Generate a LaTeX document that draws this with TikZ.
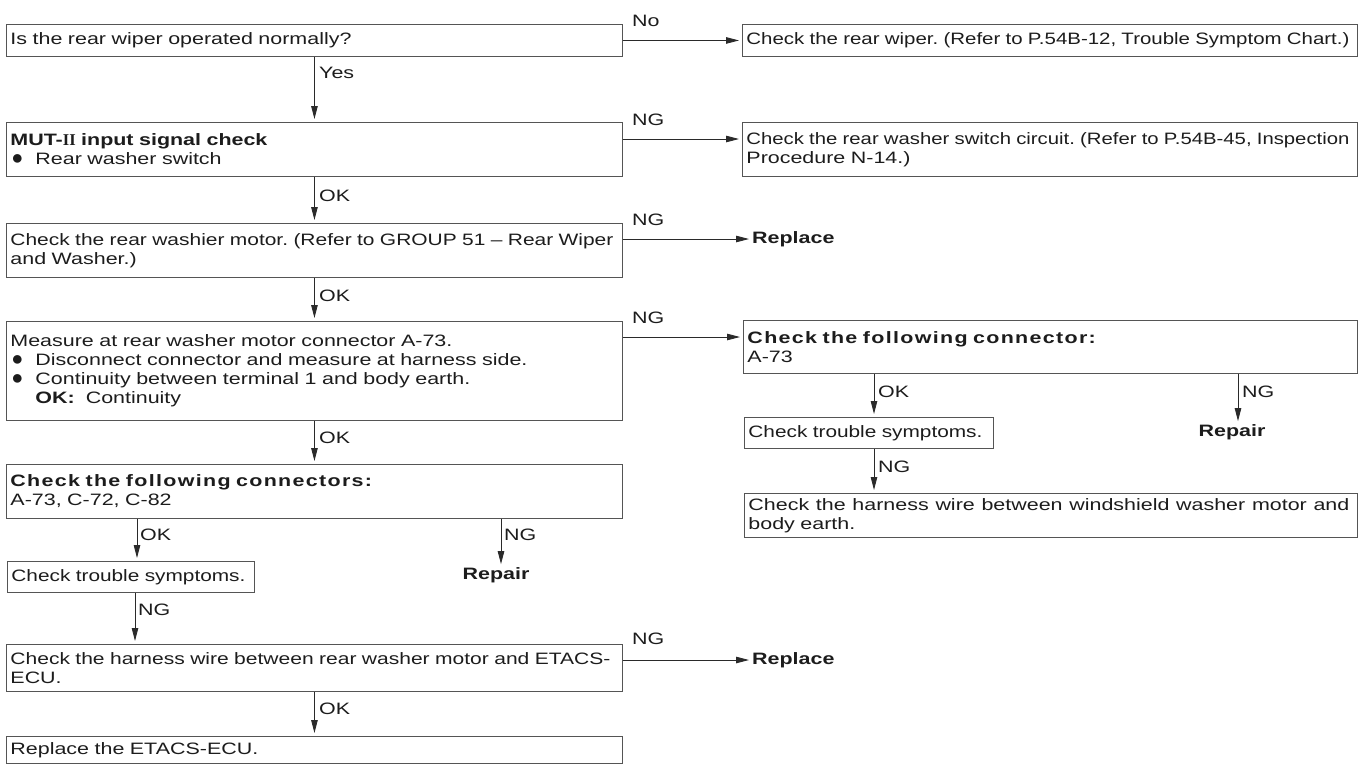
\documentclass[tikz,border=0pt]{standalone}
\usepackage{fontspec}
\usepackage{graphicx}
\setmainfont{Liberation Sans}[FakeStretch=1.3]
\newfontfamily\romfont{Liberation Serif}
\newfontfamily\symfont{Liberation Sans}
\usetikzlibrary{arrows.meta}
\definecolor{linec}{HTML}{2A2A2A}
\definecolor{boxc}{HTML}{555555}
\definecolor{txtc}{HTML}{1C1C1C}
\newcommand\bodyfont{\fontsize{16.5}{19}\selectfont\frenchspacing}
\newcommand\bul{\makebox[25pt][l]{\hspace*{1pt}{\symfont\fontsize{20}{19}\selectfont ●}}}
\newcommand\jline[2]{\makebox[#1][s]{\spaceskip=.3333em plus 1fil\relax #2}}
\newcommand\fitline[2]{\resizebox{#1}{\height}{#2}}
\newcommand\head[1]{{\bfseries\addfontfeature{LetterSpace=8}#1}}
\begin{document}
\begin{tikzpicture}[x=1pt,y=-1pt,
  box/.style={draw=boxc, line width=0.9pt, anchor=north west, inner xsep=4pt, inner ysep=0pt, align=left, font=\bodyfont, text=txtc},
  lab/.style={font=\bodyfont, inner sep=0pt, anchor=base west, text=txtc},
  blab/.style={font=\bodyfont\bfseries, inner sep=0pt, text=txtc},
  arr/.style={draw=linec, line width=0.9pt, -{Triangle[length=13pt,width=6.5pt]}, shorten >=3pt},
]
\useasboundingbox (0,0) rectangle (1363,764);
% left column
\node[box, text width=608pt, minimum height=32pt] (b1) at (6,24) {Is the rear wiper operated normally?};
\node[box, text width=607pt, minimum height=32pt] (b2) at (742,24) {\fitline{603pt}{Check the rear wiper. (Refer to P.54B-12, Trouble Symptom Chart.)}};
\node[box, text width=608pt, minimum height=54pt] (b3) at (6,122) {\textbf{MUT-{\romfont II} input signal check}\\\bul Rear washer switch};
\node[box, text width=607pt, minimum height=54pt] (b4) at (742,122) {\fitline{603pt}{Check the rear washer switch circuit. (Refer to P.54B-45, Inspection}\\Procedure N-14.)};
\node[box, text width=608pt, minimum height=54pt] (b5) at (6,223) {\fitline{603pt}{Check the rear washier motor. (Refer to GROUP 51 -- Rear Wiper}\\and Washer.)};
\node[blab, anchor=west] (rep1) at (752,239) {Replace};
\node[box, text width=608pt, minimum height=99pt] (b6) at (6,321) {Measure at rear washer motor connector A-73.\\\bul Disconnect connector and measure at harness side.\\\bul Continuity between terminal 1 and body earth.\\\hspace*{25pt}\textbf{OK:}\ \ Continuity};
\node[box, text width=606pt, minimum height=53pt] (c1) at (743,320) {\head{Check the following connector:}\\A-73};
\node[box, text width=241pt, minimum height=31pt] (t2) at (744,417) {\fitline{234pt}{Check trouble symptoms.}};
\node[blab] (rep2) at (1232,432) {Repair};
\node[box, text width=605pt, minimum height=44pt] (h2) at (744,493) {\jline{601pt}{Check the harness wire between windshield washer motor and}\\body earth.};
\node[box, text width=608pt, minimum height=54pt] (b7) at (6,464) {\head{Check the following connectors:}\\A-73, C-72, C-82};
\node[box, text width=239pt, minimum height=31pt] (t1) at (7,561) {\fitline{234pt}{Check trouble symptoms.}};
\node[blab] (rep3) at (496,575) {Repair};
\node[box, text width=608pt, minimum height=47pt] (h1) at (6,644) {\fitline{600pt}{Check the harness wire between rear washer motor and ETACS-}\\ECU.};
\node[blab, anchor=west] (rep4) at (752,660) {Replace};
\node[box, text width=608pt, minimum height=27pt] (b8) at (6,736) {Replace the ETACS-ECU.};
% horizontal connectors
\draw[arr] (b1.east) -- (b1.east -| b2.west);
\node[lab] (l1) at (632,26) {No};
\draw[arr] ([yshift=-17pt]b3.north east) -- ([yshift=-17pt]b3.north east -| b4.west);
\node[lab] (l2) at (632,125) {NG};
\draw[arr] ([yshift=-16pt]b5.north east) -- ([yshift=-16pt]b5.north east -| rep1.west);
\node[lab] (l3) at (632,225) {NG};
\draw[arr] ([yshift=-16pt]b6.north east) -- ([yshift=-16pt]b6.north east -| c1.west);
\node[lab] (l4) at (632,323) {NG};
\draw[arr] ([yshift=-16pt]h1.north east) -- ([yshift=-16pt]h1.north east -| rep4.west);
\node[lab] (l5) at (632,644) {NG};
% vertical connectors, left column
\draw[arr] (b1.south) -- (b3.north);
\node[lab] (l6) at (319,78) {Yes};
\draw[arr] (b3.south) -- (b5.north);
\node[lab] (l7) at (319,201) {OK};
\draw[arr] (b5.south) -- (b6.north);
\node[lab] (l8) at (319,301) {OK};
\draw[arr] (b6.south) -- (b7.north);
\node[lab] (l9) at (319,443) {OK};
\draw[arr] ([xshift=131pt]b7.south west) -- ([xshift=131pt]b7.south west |- t1.north);
\node[lab] (l10) at (140,540) {OK};
\draw[arr] ([xshift=495pt]b7.south west) -- ([xshift=495pt]b7.south west |- rep3.north);
\node[lab] (l11) at (504,540) {NG};
\draw[arr] ([xshift=128pt]t1.south west) -- ([xshift=128pt]t1.south west |- h1.north);
\node[lab] (l12) at (138,615) {NG};
\draw[arr] (h1.south) -- (b8.north);
\node[lab] (l13) at (319,714) {OK};
% right column
\draw[arr] ([xshift=131pt]c1.south west) -- ([xshift=131pt]c1.south west |- t2.north);
\node[lab] (l14) at (878,397) {OK};
\draw[arr] ([xshift=495pt]c1.south west) -- ([xshift=495pt]c1.south west |- rep2.north);
\node[lab] (l15) at (1242,397) {NG};
\draw[arr] ([xshift=130pt]t2.south west) -- ([xshift=130pt]t2.south west |- h2.north);
\node[lab] (l16) at (878,472) {NG};
\end{tikzpicture}
\end{document}
